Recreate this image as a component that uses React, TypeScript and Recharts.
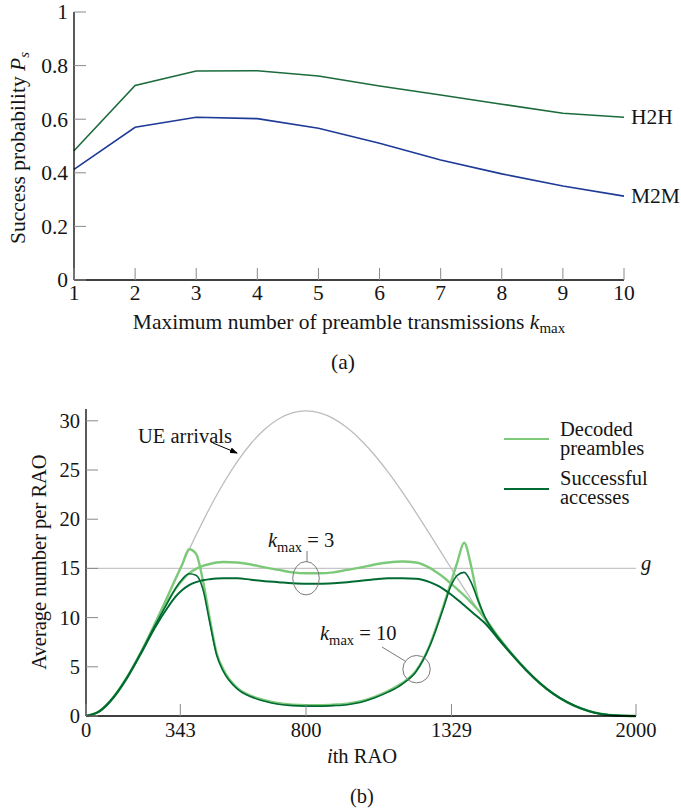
import React from "react";
import {
  LineChart,
  Line,
  XAxis,
  YAxis,
  ReferenceLine,
  ReferenceDot,
} from "recharts";

const SERIF = "'Liberation Serif', 'Times New Roman', 'DejaVu Serif', serif";
const TICK_GRAY = "#8a8a8a";
const TEXT = "#151515";
const FS_A = 21.5;
const FS_B = 20.5;

// (a) success probability against k_max
const kMax = [1, 2, 3, 4, 5, 6, 7, 8, 9, 10];
const h2hSuccess = [0.482, 0.726, 0.78, 0.781, 0.761, 0.724, 0.69, 0.656, 0.622, 0.607];
const m2mSuccess = [0.413, 0.57, 0.607, 0.602, 0.566, 0.51, 0.448, 0.396, 0.351, 0.313];
const psTicks = [0, 0.2, 0.4, 0.6, 0.8, 1];

// (b) average number per RAO
const raoIndex = [
  0, 50, 100, 150, 200, 250, 300, 325, 350, 375, 400, 425, 450, 475, 500, 550,
  600, 650, 700, 750, 800, 850, 900, 950, 1000, 1050, 1100, 1150, 1200, 1250,
  1275, 1300, 1325, 1350, 1375, 1400, 1425, 1450, 1500, 1550, 1600, 1650, 1700,
  1750, 1800, 1850, 1900, 1950, 2000,
];
const ueArrivals = [
  0, 0.52, 1.92, 3.99, 6.54, 9.39, 12.39, 13.91, 15.43, 16.91, 18.37, 19.78,
  21.14, 22.43, 23.65, 25.85, 27.69, 29.14, 30.18, 30.8, 31.0, 30.8, 30.22,
  29.29, 28.03, 26.5, 24.73, 22.77, 20.67, 18.48, 17.37, 16.25, 15.14, 14.03,
  12.94, 11.87, 10.82, 9.81, 7.88, 6.14, 4.59, 3.27, 2.19, 1.34, 0.73, 0.32,
  0.1, 0.01, 0,
];
const decodedK3 = [
  0, 0.5, 1.9, 3.95, 6.45, 9.2, 11.8, 12.9, 13.8, 14.5, 14.95, 15.25, 15.45,
  15.6, 15.65, 15.6, 15.4, 15.1, 14.85, 14.6, 14.5, 14.5, 14.6, 14.85, 15.1,
  15.4, 15.6, 15.7, 15.6, 15.05, 14.6, 14.1, 13.5, 12.9, 12.25, 11.55, 10.8,
  9.95, 8.0, 6.25, 4.7, 3.35, 2.25, 1.4, 0.77, 0.34, 0.11, 0.02, 0,
];
const successK3 = [
  0, 0.5, 1.88, 3.9, 6.35, 8.95, 11.15, 12.1, 12.8, 13.3, 13.6, 13.8, 13.9,
  13.97, 14.0, 14.0, 13.85, 13.7, 13.6, 13.5, 13.45, 13.45, 13.5, 13.6, 13.75,
  13.9, 14.0, 14.0, 13.95, 13.6, 13.3, 12.9, 12.4, 11.85, 11.25, 10.65, 10.05,
  9.45, 7.8, 6.2, 4.68, 3.35, 2.25, 1.4, 0.77, 0.34, 0.11, 0.02, 0,
];
const decodedK10 = [
  0, 0.52, 1.92, 3.99, 6.5, 9.35, 12.35, 13.9, 15.4, 16.95, 16.5, 13.8, 9.9,
  6.4, 4.7, 2.85, 2.05, 1.6, 1.3, 1.15, 1.1, 1.1, 1.15, 1.25, 1.5, 1.95, 2.55,
  3.35, 4.6, 7.2, 9.1, 11.2, 13.4, 15.6, 17.6, 15.3, 11.9, 10.0, 8.0, 6.25,
  4.7, 3.35, 2.25, 1.4, 0.77, 0.34, 0.11, 0.02, 0,
];
const successK10 = [
  0, 0.5, 1.9, 3.95, 6.45, 9.15, 11.7, 12.95, 13.9, 14.45, 14.3, 12.9, 9.5,
  6.2, 4.5, 2.75, 1.95, 1.5, 1.2, 1.05, 1.0, 1.0, 1.05, 1.15, 1.4, 1.85, 2.45,
  3.25, 4.5, 7.1, 8.95, 11.0, 13.1, 14.3, 14.6, 13.6, 11.8, 10.1, 7.95, 6.25,
  4.7, 3.35, 2.25, 1.4, 0.77, 0.34, 0.11, 0.02, 0,
];
const raoTicks = [0, 343, 800, 1329, 2000];
const countTicks = [0, 5, 10, 15, 20, 25, 30];
const gLevel = 15;

const dataA = kMax.map((k, i) => ({ k, h2h: h2hSuccess[i], m2m: m2mSuccess[i] }));
const dataB = raoIndex.map((rao, i) => ({
  rao,
  arrivals: ueArrivals[i],
  dec3: decodedK3[i],
  suc3: successK3[i],
  dec10: decodedK10[i],
  suc10: successK10[i],
}));

const LIGHT = "#7dc97a";
const DARK = "#006a33";
const ARR_GRAY = "#bdbdbd";

const makeLeftTick = (fs: number) => (props: any) => {
  const { x, y, payload } = props;
  return (
    <g>
      <line x1={x} x2={x + 12} y1={y} y2={y} stroke={TICK_GRAY} strokeWidth={1} />
      <text x={x - 6} y={y + fs * 0.34} textAnchor="end" fontFamily={SERIF} fontSize={fs} fill={TEXT}>
        {payload.value}
      </text>
    </g>
  );
};

const makeBottomTick = (fs: number, drop: number) => (props: any) => {
  const { x, y, payload } = props;
  return (
    <g>
      <line x1={x} x2={x} y1={y} y2={y - 12} stroke={TICK_GRAY} strokeWidth={1} />
      <text x={x} y={y + drop} textAnchor="middle" fontFamily={SERIF} fontSize={fs} fill={TEXT}>
        {payload.value}
      </text>
    </g>
  );
};

const endLabel = (name: string) => (props: any) => {
  if (props.index !== kMax.length - 1) return <g />;
  return (
    <text x={props.x + 7} y={props.y + 7} fontFamily={SERIF} fontSize={FS_A} fill={TEXT}>
      {name}
    </text>
  );
};

const axisLine = { stroke: "#000", strokeWidth: 1.3 };

function ChartA() {
  return (
    <LineChart width={681} height={340} data={dataA} margin={{ top: 12, right: 57, bottom: 30, left: 44 }}>
      <XAxis
        dataKey="k"
        type="number"
        domain={[1, 10]}
        ticks={kMax}
        interval={0}
        height={30}
        tickSize={0}
        tickMargin={0}
        tickLine={false}
        axisLine={axisLine}
        tick={makeBottomTick(FS_A, 20)}
      />
      <YAxis
        type="number"
        domain={[0, 1]}
        ticks={psTicks}
        interval={0}
        width={30}
        tickSize={0}
        tickMargin={0}
        tickLine={false}
        axisLine={axisLine}
        tick={makeLeftTick(FS_A)}
      />
      <Line dataKey="h2h" type="linear" stroke="#1c6b3c" strokeWidth={1.6} dot={false} isAnimationActive={false} label={endLabel("H2H")} />
      <Line dataKey="m2m" type="linear" stroke="#1d3a97" strokeWidth={1.6} dot={false} isAnimationActive={false} label={endLabel("M2M")} />
    </LineChart>
  );
}

function ChartB() {
  return (
    <LineChart width={681} height={429} data={dataB} margin={{ top: 29, right: 45, bottom: 63, left: 56 }}>
      <XAxis
        dataKey="rao"
        type="number"
        domain={[0, 2000]}
        ticks={raoTicks}
        interval={0}
        height={30}
        tickSize={0}
        tickMargin={0}
        tickLine={false}
        axisLine={axisLine}
        tick={makeBottomTick(FS_B, 21)}
      />
      <YAxis
        type="number"
        domain={[0, 31.2]}
        ticks={countTicks}
        interval={0}
        width={30}
        tickSize={0}
        tickMargin={0}
        tickLine={false}
        axisLine={axisLine}
        tick={makeLeftTick(FS_B)}
      />
      <ReferenceLine y={gLevel} stroke="#c6c6c6" strokeWidth={1.2} />
      <Line dataKey="arrivals" type="monotone" stroke={ARR_GRAY} strokeWidth={1.3} dot={false} isAnimationActive={false} />
      <Line dataKey="dec3" type="monotone" stroke={LIGHT} strokeWidth={2.4} dot={false} isAnimationActive={false} />
      <Line dataKey="dec10" type="monotone" stroke={LIGHT} strokeWidth={2.4} dot={false} isAnimationActive={false} />
      <Line dataKey="suc3" type="monotone" stroke={DARK} strokeWidth={2} dot={false} isAnimationActive={false} />
      <Line dataKey="suc10" type="monotone" stroke={DARK} strokeWidth={1.6} dot={false} isAnimationActive={false} />
      <ReferenceDot
        x={800}
        y={14}
        r={14}
        isFront
        shape={(p: any) => <ellipse cx={p.cx} cy={p.cy} rx={13.3} ry={16.7} fill="none" stroke="#7a7a7a" strokeWidth={1} />}
      />
      <ReferenceDot
        x={1202}
        y={4.76}
        r={14}
        isFront
        shape={(p: any) => <circle cx={p.cx} cy={p.cy} r={13.7} fill="none" stroke="#7a7a7a" strokeWidth={1} />}
      />
    </LineChart>
  );
}

function Overlay() {
  const a = { fontFamily: SERIF, fontSize: FS_A, fill: TEXT };
  const b = { fontFamily: SERIF, fontSize: FS_B, fill: TEXT };
  return (
    <svg width={681} height={809} style={{ position: "absolute", left: 0, top: 0, pointerEvents: "none" }}>
      <defs>
        <marker id="arrowHead" markerWidth="8" markerHeight="6" refX="7" refY="3" orient="auto" markerUnits="userSpaceOnUse">
          <path d="M0,0 L8,3 L0,6 Z" fill="#000" />
        </marker>
      </defs>
      {/* chart (a) titles */}
      <text {...a} transform="translate(25,148) rotate(-90)" textAnchor="middle">
        Success probability <tspan fontStyle="italic">P</tspan>
        <tspan fontStyle="italic" fontSize={15} dy={4}>s</tspan>
      </text>
      <text {...a} x={349} y={329} textAnchor="middle">
        Maximum number of preamble transmissions <tspan fontStyle="italic">k</tspan>
        <tspan fontSize={15} dy={4}>max</tspan>
      </text>
      <text {...a} x={343} y={369} textAnchor="middle">(a)</text>

      {/* chart (b) titles */}
      <text {...b} transform="translate(46,562) rotate(-90)" textAnchor="middle">
        Average number per RAO
      </text>
      <text {...b} x={362} y={763} textAnchor="middle">
        <tspan fontStyle="italic">i</tspan>th RAO
      </text>
      <text {...b} x={362} y={803} textAnchor="middle">(b)</text>

      {/* annotations */}
      <text {...b} x={138} y={443}>UE arrivals</text>
      <line x1={213} y1={443} x2={237} y2={453} stroke="#000" strokeWidth={1} markerEnd="url(#arrowHead)" />
      <text {...b} x={641} y={570} fontStyle="italic">g</text>

      <text {...b} x={268} y={547}>
        <tspan fontStyle="italic">k</tspan>
        <tspan fontSize={14.5} dy={5}>max</tspan>
        <tspan dy={-5}> = 3</tspan>
      </text>
      <line x1={307} y1={551} x2={307} y2={562} stroke="#7a7a7a" strokeWidth={1} />

      <text {...b} x={320} y={640}>
        <tspan fontStyle="italic">k</tspan>
        <tspan fontSize={14.5} dy={5}>max</tspan>
        <tspan dy={-5}> = 10</tspan>
      </text>
      <line x1={382} y1={647} x2={405} y2={661} stroke="#7a7a7a" strokeWidth={1} />

      {/* legend */}
      <line x1={504} x2={549} y1={439} y2={439} stroke={LIGHT} strokeWidth={2} />
      <text {...b} x={560} y={436}>Decoded</text>
      <text {...b} x={560} y={455}>preambles</text>
      <line x1={504} x2={549} y1={489} y2={489} stroke={DARK} strokeWidth={2} />
      <text {...b} x={560} y={485}>Successful</text>
      <text {...b} x={560} y={504}>accesses</text>
    </svg>
  );
}

export default function App() {
  return (
    <div style={{ position: "absolute", left: 0, top: 0, width: 681, height: 809, background: "#fff", fontFamily: SERIF }}>
      <div style={{ position: "absolute", left: 0, top: 0 }}>
        <ChartA />
      </div>
      <div style={{ position: "absolute", left: 0, top: 380 }}>
        <ChartB />
      </div>
      <Overlay />
    </div>
  );
}
